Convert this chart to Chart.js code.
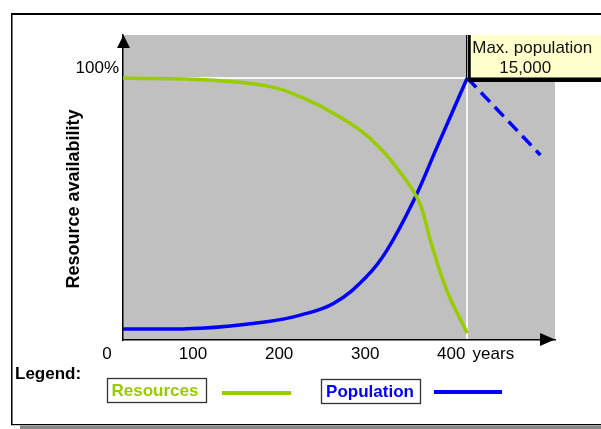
<!DOCTYPE html>
<html>
<head>
<meta charset="utf-8">
<script src="https://cdn.jsdelivr.net/npm/chart.js@4"></script>
<style>
  body { margin: 0; background: #fff; }
  #wrap { position: relative; width: 601px; height: 429px; }
</style>
</head>
<body>
<div id="wrap"><canvas id="chart"></canvas></div>
<script>
// values (years / % of maximum)
let resourceYears = [0, 100, 171, 210, 248, 287, 326, 345, 357, 376, 400];
let resourceValues = [100, 99.2, 96.7, 92.3, 85.9, 77.0, 62.3, 52.0, 38.2, 19.1, 2.6];

let populationYears = [0, 90, 167, 206, 245, 283, 307, 338, 365, 400];
let populationValues = [4.2, 4.5, 7.0, 9.5, 14.0, 24.2, 34.4, 53.4, 73.7, 100];

let forecastYears = [400, 485];
let forecastValues = [100, 70.6];

let xTickValues = [0, 100, 200, 300, 400, 449];
let xTickLabels = ["0", "100", "200", "300", "400", "years"];
let yTickValues = [100];
let yTickLabels = ["100%"];

const GREEN = "#99CC00";
const BLUE = "#0000FF";
const FONT = "'Liberation Sans', Arial, sans-serif";

function toPoints(xs, ys) {
    return xs.map((x, i) => ({ x: x, y: ys[i] }));
}

// frame, plot background, arrows, annotation and legend
const decor = {
    id: 'decor',
    beforeDraw(chart) {
        let ctx = chart.ctx;
        let a = chart.chartArea;
        ctx.save();
        ctx.fillStyle = "#C0C0C0";
        ctx.fillRect(a.left, a.top, a.right - a.left, a.bottom - a.top);
        ctx.restore();
    },
    afterDraw(chart) {
        let ctx = chart.ctx;
        let a = chart.chartArea;
        let xs = chart.scales.x, ys = chart.scales.y;
        ctx.save();

        // outer frame
        ctx.fillStyle = "#000";
        ctx.fillRect(11, 13, 590, 2);
        ctx.fillRect(11, 13, 1.5, 412);
        ctx.fillRect(11, 424, 590, 1.2);
        ctx.fillStyle = "#888";
        ctx.fillRect(20, 425.5, 581, 4);

        // axis arrows
        ctx.fillStyle = "#000";
        ctx.beginPath();
        ctx.moveTo(a.left - 6, a.top + 13);
        ctx.lineTo(a.left + 7, a.top + 13);
        ctx.lineTo(a.left + 0.5, a.top);
        ctx.closePath();
        ctx.fill();
        ctx.beginPath();
        ctx.moveTo(a.right - 15, a.bottom - 7);
        ctx.lineTo(a.right - 15, a.bottom + 6);
        ctx.lineTo(a.right, a.bottom - 0.5);
        ctx.closePath();
        ctx.fill();

        // y axis title
        ctx.save();
        ctx.translate(74, 199);
        ctx.rotate(-Math.PI / 2);
        ctx.font = "bold 18px " + FONT;
        ctx.textAlign = "center";
        ctx.textBaseline = "middle";
        ctx.fillText("Resource availability", 0, 0);
        ctx.restore();

        // max population note
        let px = xs.getPixelForValue(400);
        let py = ys.getPixelForValue(100);
        ctx.fillStyle = "#000";
        ctx.fillRect(px - 1.2, a.top, 1, py - a.top);
        ctx.fillRect(px + 0.5, a.top, 601 - px, py - a.top + 4);
        ctx.fillStyle = "#FFFFCC";
        ctx.fillRect(px + 3.5, a.top, 601 - px, py - a.top - 0.5);
        ctx.fillStyle = "#111";
        ctx.font = "17px " + FONT;
        ctx.textAlign = "left";
        ctx.textBaseline = "alphabetic";
        ctx.fillText("Max. population", px + 5, a.top + 18);
        ctx.fillText("15,000", px + 32, a.top + 38);

        // legend
        ctx.fillStyle = "#000";
        ctx.font = "bold 17px " + FONT;
        ctx.fillText("Legend:", 15, 379);
        ctx.lineWidth = 1.3;
        ctx.strokeStyle = "#333";
        ctx.strokeRect(107.5, 378.5, 99, 24);
        ctx.strokeRect(321.5, 379.5, 99, 24);
        ctx.textAlign = "center";
        ctx.textBaseline = "middle";
        ctx.fillStyle = GREEN;
        ctx.fillText("Resources", 155, 391);
        ctx.fillStyle = BLUE;
        ctx.fillText("Population", 370, 392);
        ctx.lineWidth = 4;
        ctx.strokeStyle = GREEN;
        ctx.beginPath();
        ctx.moveTo(222, 393);
        ctx.lineTo(291, 393);
        ctx.stroke();
        ctx.strokeStyle = BLUE;
        ctx.beginPath();
        ctx.moveTo(434, 392);
        ctx.lineTo(502, 392);
        ctx.stroke();

        ctx.restore();
    }
};

new Chart(document.getElementById('chart').getContext('2d'), {
    type: 'line',
    data: {
        datasets: [{
            label: "Resources",
            data: toPoints(resourceYears, resourceValues),
            borderColor: GREEN,
            borderWidth: 3.5,
            pointRadius: 0,
            tension: 0.4,
            fill: false
        }, {
            label: "Population",
            data: toPoints(populationYears, populationValues),
            borderColor: BLUE,
            borderWidth: 3.5,
            pointRadius: 0,
            tension: 0.4,
            fill: false
        }, {
            label: "Population (forecast)",
            data: toPoints(forecastYears, forecastValues),
            borderColor: BLUE,
            borderWidth: 3.5,
            borderDash: [13, 7],
            pointRadius: 0,
            fill: false
        }]
    },
    options: {
        responsive: true,
        maintainAspectRatio: false,
        animation: false,
        layout: { padding: { left: 0, top: 35, right: 46, bottom: 59 } },
        plugins: { legend: { display: false }, tooltip: { enabled: false } },
        scales: {
            x: {
                type: 'linear',
                min: 0,
                max: 502,
                afterFit: s => { s.height = 30; },
                afterBuildTicks: s => { s.ticks = xTickValues.map(v => ({ value: v })); },
                grid: {
                    drawTicks: false,
                    lineWidth: 2,
                    color: ctx => ctx.tick && ctx.tick.value === 400 ? "rgba(255,255,255,0.85)" : "rgba(0,0,0,0)"
                },
                border: { color: "#000", width: 1.5 },
                ticks: {
                    autoSkip: false,
                    maxRotation: 0,
                    padding: 4,
                    labelOffset: -16,
                    color: "#000",
                    font: { family: FONT, size: 17 },
                    callback: (v) => xTickLabels[xTickValues.indexOf(v)]
                }
            },
            y: {
                min: 0,
                max: 116.4,
                afterFit: s => { s.width = 123; },
                afterBuildTicks: s => { s.ticks = yTickValues.map(v => ({ value: v })); },
                grid: {
                    drawTicks: false,
                    lineWidth: 2,
                    color: "rgba(255,255,255,0.85)"
                },
                border: { color: "#000", width: 1.5 },
                ticks: {
                    padding: 4,
                    labelOffset: -10,
                    color: "#000",
                    font: { family: FONT, size: 17 },
                    callback: (v) => yTickLabels[yTickValues.indexOf(v)]
                }
            }
        }
    },
    plugins: [decor]
});
</script>
</body>
</html>
